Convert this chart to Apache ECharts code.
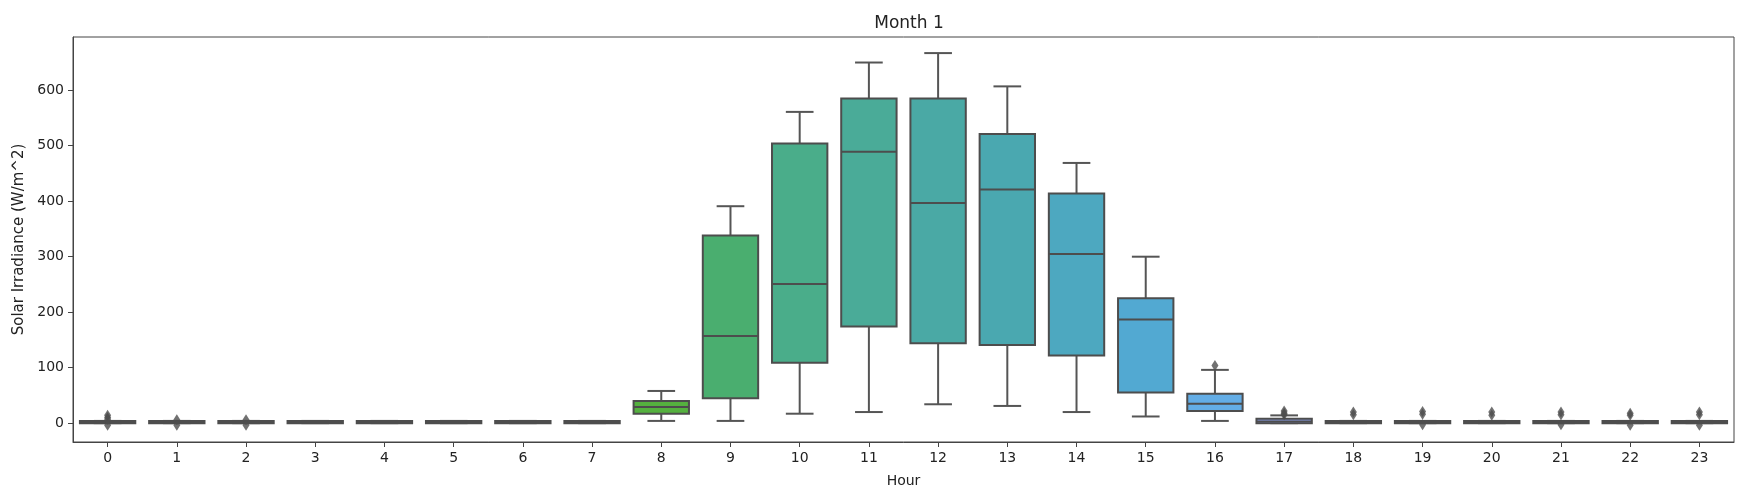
<!DOCTYPE html>
<html>
<head>
<meta charset="utf-8">
<script src="https://cdn.jsdelivr.net/npm/echarts@6/dist/echarts.min.js"></script>
<style>
html,body{margin:0;padding:0;background:#fff;}
#chart{width:1754px;height:498px;}
</style>
</head>
<body>
<div id="chart"></div>
<script>
const hours = ['0','1','2','3','4','5','6','7','8','9','10','11','12','13','14','15','16','17','18','19','20','21','22','23'];
const whiskerLow  = [0, 0, 0, 0, 0, 0, 0, 0, 4, 4, 17, 20, 34, 31, 20, 12, 4, 0, 0, 0, 0, 0, 0, 0];
const q1          = [0, 0, 0, 0, 0, 0, 0, 0, 17, 45, 109, 174, 144, 141, 122, 55, 22, 0, 0, 0, 0, 0, 0, 0];
const median      = [2, 2, 2, 2, 2, 2, 2, 2, 29, 157, 251, 489, 397, 421, 305, 187, 35, 3, 2, 2, 2, 2, 2, 2];
const q3          = [4, 4, 4, 4, 4, 4, 4, 4, 40, 338, 504, 585, 585, 521, 414, 225, 53, 8, 4, 4, 4, 4, 4, 4];
const whiskerHigh = [4, 4, 4, 4, 4, 4, 4, 4, 58, 391, 561, 650, 667, 607, 469, 300, 96, 14, 4, 4, 4, 4, 4, 4];
const outlierHour  = [0, 0, 0, 0, 1, 1, 2, 2, 16, 17, 17, 17, 18, 18, 19, 19, 19, 20, 20, 21, 21, 21, 22, 22, 22, 23, 23, 23];
const outlierValue = [14, 10, 7, -4, 6, -4, 6, -4, 104, 22, 18, 15, 20, 15, 21, 16, -3, 20, 14, 20, 15, -3, 18, 14, -4, 20, 15, -4];
const boxColors = ['#e68294','#e5876c','#d3904a','#c09747','#ad9d47','#9ea247','#8ca747','#74ab46',
  '#55b13f','#4aae6f','#4aad8a','#4aab98','#4aa9a5','#4aa8b0','#4da8c0','#52a9d2',
  '#63ade6','#8a9ee8','#a595e9','#c08ae8','#d981e3','#e27fce','#e482b8','#e586a4'];
const yTicks = [0, 100, 200, 300, 400, 500, 600];

const lineColor = '#4d4d4d';
const boxData = hours.map((h, i) => [i, whiskerLow[i], q1[i], median[i], q3[i], whiskerHigh[i]]);
const outlierData = outlierHour.map((h, i) => [h, outlierValue[i]]);

const chart = echarts.init(document.getElementById('chart'), null, {renderer: 'canvas'});
const font = 'DejaVu Sans';
chart.setOption({
  animation: false,
  backgroundColor: '#fff',
  title: {
    text: 'Month 1', left: 904, top: 10, textAlign: 'center',
    textStyle: {fontFamily: font, fontSize: 17, fontWeight: 'normal', color: '#222'}
  },
  grid: {left: 73, right: 20, top: 37, bottom: 56, show: true, borderColor: '#444', borderWidth: 1, outerBoundsMode: 'none'},
  xAxis: {
    type: 'category', data: hours, boundaryGap: true,
    name: 'Hour', nameLocation: 'middle', nameGap: 32,
    nameTextStyle: {fontFamily: font, fontSize: 14, color: '#222'},
    axisLine: {show: true, onZero: false, lineStyle: {color: '#444', width: 1}},
    axisTick: {show: true, alignWithLabel: true, length: 5, lineStyle: {color: '#444'}},
    axisLabel: {fontFamily: font, fontSize: 14, color: '#222', margin: 9, interval: 0},
    splitLine: {show: false}
  },
  yAxis: {
    type: 'value', min: -34, max: 696,
    name: 'Solar Irradiance (W/m^2)', nameLocation: 'middle', nameGap: 44, nameRotate: 90,
    nameTextStyle: {fontFamily: font, fontSize: 15, color: '#222'},
    axisLine: {show: true, onZero: false, lineStyle: {color: '#444', width: 1}},
    axisTick: {show: true, length: 5, customValues: yTicks, lineStyle: {color: '#444'}},
    axisLabel: {fontFamily: font, fontSize: 14, color: '#222', margin: 9, customValues: yTicks},
    splitLine: {show: false}
  },
  series: [
    {
      type: 'custom',
      data: boxData,
      encode: {x: 0, y: [1, 2, 3, 4, 5]},
      renderItem: function (params, api) {
        const i = api.value(0);
        const band = api.size([1, 0])[0];
        const bw = band * 0.8, cw = band * 0.4;
        const pLow = api.coord([i, api.value(1)]);
        const pQ1 = api.coord([i, api.value(2)]);
        const pMed = api.coord([i, api.value(3)]);
        const pQ3 = api.coord([i, api.value(4)]);
        const pHigh = api.coord([i, api.value(5)]);
        const x = pQ1[0];
        const ls = {stroke: '#555', lineWidth: 2};
        return {
          type: 'group',
          children: [
            {type: 'line', shape: {x1: x, y1: pQ1[1], x2: x, y2: pLow[1]}, style: ls},
            {type: 'line', shape: {x1: x, y1: pQ3[1], x2: x, y2: pHigh[1]}, style: ls},
            {type: 'line', shape: {x1: x - cw / 2, y1: pLow[1], x2: x + cw / 2, y2: pLow[1]}, style: ls},
            {type: 'line', shape: {x1: x - cw / 2, y1: pHigh[1], x2: x + cw / 2, y2: pHigh[1]}, style: ls},
            {type: 'rect', shape: {x: x - bw / 2, y: pQ3[1], width: bw, height: pQ1[1] - pQ3[1]},
              style: {fill: boxColors[params.dataIndex], stroke: lineColor, lineWidth: 2}},
            {type: 'line', shape: {x1: x - bw / 2, y1: pMed[1], x2: x + bw / 2, y2: pMed[1]}, style: {stroke: lineColor, lineWidth: 2}}
          ]
        };
      }
    },
    {
      type: 'scatter',
      data: outlierData,
      symbol: 'diamond',
      symbolSize: [7, 11],
      itemStyle: {color: lineColor},
      z: 5
    }
  ]
});
</script>
</body>
</html>
